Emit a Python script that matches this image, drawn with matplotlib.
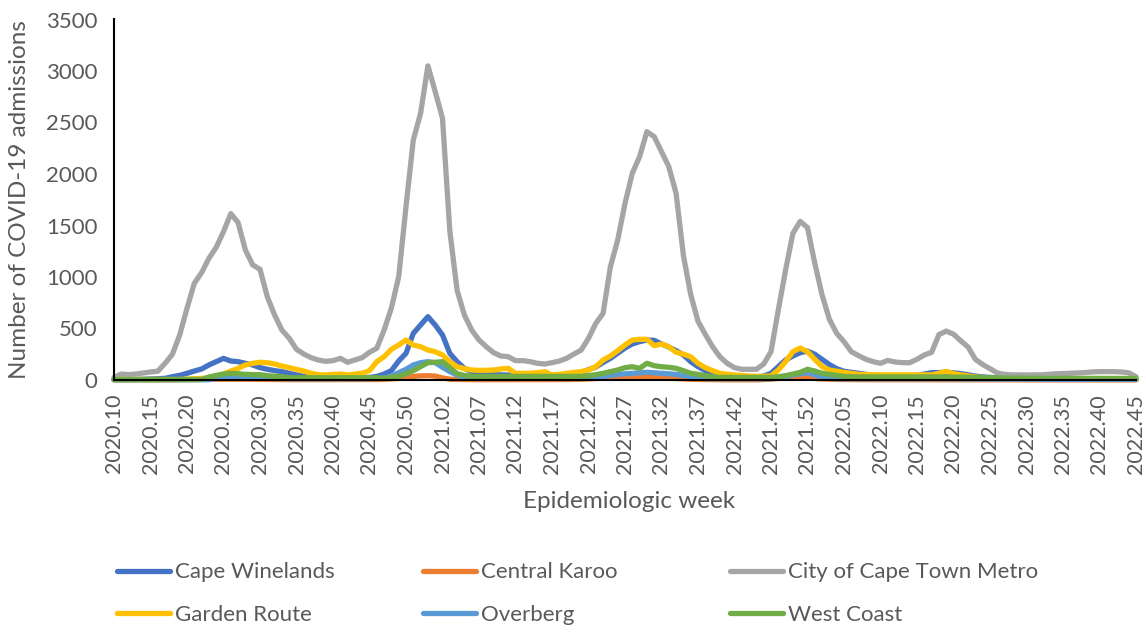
import matplotlib.pyplot as plt

# Semanas epidemiológicas: 2020.10-2020.53, 2021.01-2021.52, 2022.01-2022.45
weeks = ([f"2020.{w:02d}" for w in range(10, 54)]
         + [f"2021.{w:02d}" for w in range(1, 53)]
         + [f"2022.{w:02d}" for w in range(1, 46)])

cape_winelands = [5, 5, 5, 5, 8, 10, 12, 16, 32, 45, 65, 87, 107, 146, 178, 210, 184, 178, 162, 146,
                  120, 104, 91, 81, 65, 49, 35, 28, 25, 22, 20, 20, 20, 20, 22, 25, 35, 58, 91, 185,
                  259, 453, 534, 615, 534, 437, 259, 178, 113, 81, 65, 55, 50, 50, 48, 45, 45, 45, 45, 45,
                  45, 50, 55, 60, 75, 100, 125, 170, 210, 260, 310, 350, 372, 388, 385, 350, 320, 285, 243, 178,
                  129, 91, 65, 49, 35, 30, 28, 25, 25, 39, 65, 129, 194, 233, 265, 280, 250, 200, 150, 110,
                  85, 75, 65, 55, 45, 42, 40, 40, 40, 42, 45, 58, 71, 72, 75, 70, 62, 50, 38, 30,
                  25, 20, 16, 15, 14, 14, 13, 13, 12, 12, 12, 12, 11, 11, 11, 10, 10, 10, 10, 10, 10]
central_karoo = [1, 1, 1, 1, 1, 1, 1, 2, 2, 3, 3, 4, 5, 6, 7, 8, 8, 8, 8, 7,
                 6, 5, 4, 4, 3, 3, 3, 2, 2, 2, 2, 2, 2, 2, 2, 3, 4, 6, 10, 15,
                 25, 35, 40, 42, 38, 20, 8, 5, 4, 3, 3, 3, 3, 3, 3, 3, 3, 3, 3, 3,
                 3, 3, 4, 5, 7, 10, 14, 18, 22, 25, 28, 30, 30, 28, 25, 22, 18, 14, 10, 7,
                 5, 4, 3, 3, 2, 2, 2, 2, 2, 4, 8, 15, 22, 25, 25, 22, 15, 10, 7, 5,
                 4, 3, 3, 3, 3, 3, 3, 3, 3, 3, 3, 3, 4, 4, 4, 4, 3, 3, 2, 2,
                 2, 2, 2, 2, 1, 1, 1, 1, 1, 1, 1, 1, 1, 1, 1, 1, 1, 1, 1, 1, 1]
city_of_cape_town = [25, 58, 52, 58, 68, 78, 85, 162, 250, 437, 696, 939, 1042, 1181, 1288, 1440, 1615, 1528, 1262, 1117,
                     1075, 809, 631, 485, 405, 298, 252, 217, 194, 181, 188, 210, 172, 194, 217, 269, 308, 485, 699, 1003,
                     1683, 2330, 2590, 3050, 2800, 2540, 1450, 870, 631, 485, 388, 323, 265, 233, 226, 188, 188, 178, 162, 155,
                     168, 184, 210, 252, 291, 405, 550, 647, 1100, 1359, 1715, 2007, 2168, 2411, 2363, 2217, 2071, 1812, 1210, 830,
                     570, 443, 323, 226, 162, 120, 104, 104, 104, 155, 275, 680, 1068, 1424, 1540, 1480, 1133, 825, 589, 453,
                     372, 275, 236, 201, 178, 162, 190, 175, 168, 168, 201, 243, 269, 440, 475, 445, 380, 320, 200, 150,
                     110, 68, 55, 50, 49, 49, 49, 50, 55, 60, 62, 65, 68, 72, 78, 81, 81, 81, 78, 70, 32]
garden_route = [5, 5, 5, 5, 5, 5, 5, 5, 5, 5, 8, 10, 15, 22, 32, 58, 87, 113, 146, 162,
                172, 168, 155, 136, 120, 104, 87, 65, 52, 49, 55, 58, 49, 58, 65, 91, 178, 226, 298, 340,
                388, 340, 323, 291, 275, 243, 178, 129, 110, 97, 94, 94, 97, 107, 113, 65, 65, 65, 71, 81,
                49, 55, 65, 74, 81, 97, 129, 194, 233, 285, 340, 388, 395, 395, 333, 350, 323, 269, 252, 226,
                162, 120, 91, 65, 55, 49, 42, 38, 36, 36, 39, 97, 178, 275, 310, 275, 200, 130, 97, 85,
                74, 65, 55, 52, 50, 50, 50, 50, 50, 50, 50, 50, 50, 65, 84, 62, 50, 40, 30, 22,
                15, 12, 10, 9, 8, 8, 7, 7, 6, 6, 6, 6, 6, 5, 5, 5, 5, 5, 5, 5, 5]
overberg = [3, 3, 3, 3, 3, 3, 3, 3, 3, 3, 3, 3, 3, 3, 15, 25, 30, 28, 25, 22,
            20, 15, 14, 13, 12, 12, 12, 12, 12, 12, 12, 12, 12, 12, 12, 12, 14, 20, 39, 71,
            104, 146, 168, 178, 168, 123, 81, 49, 26, 15, 15, 15, 15, 15, 15, 15, 15, 15, 15, 15,
            15, 15, 15, 15, 15, 20, 25, 35, 45, 55, 60, 65, 70, 75, 70, 65, 60, 55, 45, 30,
            20, 12, 12, 12, 12, 12, 12, 12, 12, 12, 12, 20, 30, 49, 60, 71, 50, 30, 15, 12,
            12, 12, 12, 12, 12, 12, 12, 12, 12, 12, 12, 12, 12, 12, 12, 12, 10, 10, 10, 10,
            8, 8, 8, 8, 7, 7, 7, 7, 6, 6, 6, 6, 6, 5, 5, 5, 5, 5, 5, 5, 5]
west_coast = [5, 5, 5, 5, 5, 5, 5, 5, 5, 5, 5, 5, 5, 29, 45, 58, 65, 61, 55, 52,
              52, 42, 36, 32, 22, 22, 22, 22, 22, 22, 22, 22, 22, 22, 22, 22, 22, 16, 26, 36,
              61, 91, 129, 168, 172, 178, 120, 61, 45, 35, 35, 35, 35, 35, 35, 35, 35, 35, 35, 35,
              35, 35, 35, 35, 35, 42, 52, 65, 81, 97, 120, 129, 113, 162, 139, 129, 123, 113, 91, 65,
              55, 42, 32, 25, 25, 25, 25, 25, 25, 25, 25, 32, 42, 58, 74, 104, 87, 65, 55, 45,
              35, 32, 30, 30, 30, 30, 30, 30, 30, 30, 30, 30, 30, 30, 30, 28, 28, 26, 25, 24,
              22, 20, 20, 18, 18, 17, 17, 16, 16, 16, 15, 15, 15, 15, 15, 15, 15, 15, 15, 15, 15]

series = [
    ("Cape Winelands", cape_winelands, "#4472C4"),
    ("Central Karoo", central_karoo, "#ED7D31"),
    ("City of Cape Town Metro", city_of_cape_town, "#A5A5A5"),
    ("Garden Route", garden_route, "#FFC000"),
    ("Overberg", overberg, "#5B9BD5"),
    ("West Coast", west_coast, "#70AD47"),
]

plt.rcParams['font.family'] = ['Lato', 'DejaVu Sans']
text_color = "#595959"

W, H = 1146, 632
left, right, top, bottom = 114, 1136, 19.5, 380
fig = plt.figure(figsize=(W / 100, H / 100), dpi=100)
ax = fig.add_axes([left / W, 1 - bottom / H, (right - left) / W, (bottom - top) / H])

x = list(range(len(weeks)))
handles = []
for name, values, color in series:
    line, = ax.plot(x, values, color=color, lw=3.8, label=name,
                    solid_joinstyle="round", solid_capstyle="round", clip_on=False)
    handles.append(line)

ax.set_xlim(0, len(weeks) - 1)
ax.set_ylim(0, 3500)
ax.set_yticks(range(0, 3501, 500))
ax.set_xticks(x[::5])
ax.set_xticklabels(weeks[::5], rotation=90)
ax.tick_params(axis="both", length=0, labelcolor=text_color)
ax.tick_params(axis="y", pad=12, labelsize=16)
ax.tick_params(axis="x", pad=10, labelsize=15.5)

for side in ("top", "right"):
    ax.spines[side].set_visible(False)
for side in ("left", "bottom"):
    ax.spines[side].set_color("black")
    ax.spines[side].set_linewidth(1.5)

ax.set_ylabel("Number of COVID-19 admissions", fontsize=17.5, color=text_color)
ax.yaxis.set_label_coords(-84 / (right - left), 0.5)
fig.text(629 / W, 1 - 501 / H, "Epidemiologic week", fontsize=17.5, color=text_color,
         ha="center", va="center")

# Leyenda: tres columnas de dos entradas
columns = [(117, [0, 3]), (423, [1, 4]), (730, [2, 5])]
for x0, idx in columns:
    leg = fig.legend([handles[i] for i in idx], [series[i][0] for i in idx],
                     loc="center left", bbox_to_anchor=(x0 / W, 1 - 593.5 / H),
                     frameon=False, fontsize=16, handlelength=2.4, handletextpad=0.22,
                     labelspacing=1.0, borderpad=0, borderaxespad=0)
    for t in leg.get_texts():
        t.set_color(text_color)

fig.savefig("out.png", dpi=100)
